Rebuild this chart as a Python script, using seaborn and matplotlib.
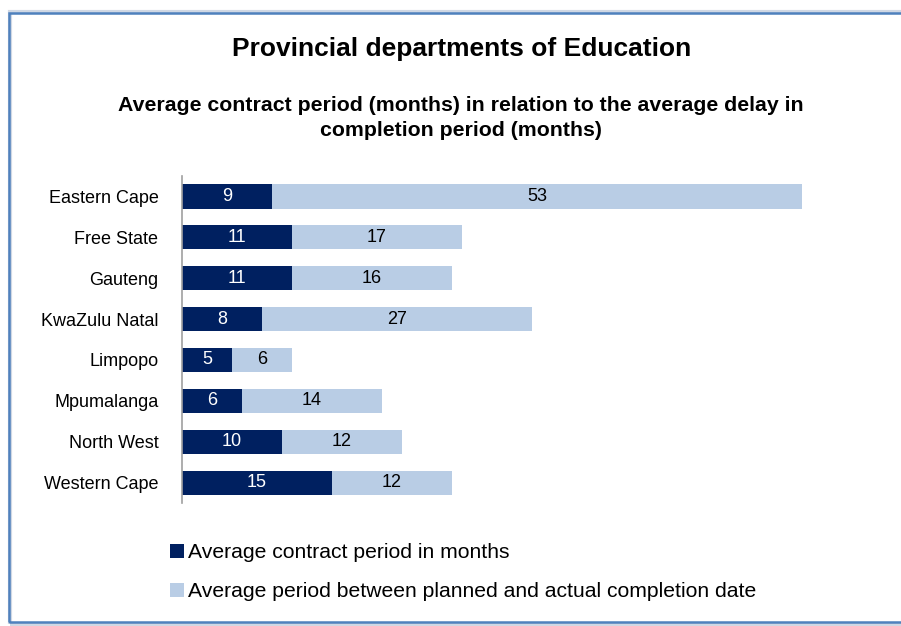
import matplotlib
matplotlib.use("Agg")
import matplotlib.pyplot as plt
from matplotlib.patches import Patch, Rectangle
import seaborn as sns
import pandas as pd

provinces = ["Eastern Cape", "Free State", "Gauteng", "KwaZulu Natal",
             "Limpopo", "Mpumalanga", "North West", "Western Cape"]
contract_months = [9, 11, 11, 8, 5, 6, 10, 15]
delay_months = [53, 17, 16, 27, 6, 14, 12, 12]

series_contract = "Average contract period in months"
series_delay = "Average period between planned and actual completion date"

dark = "#002060"
light = "#B9CDE5"

sns.set_theme(style="white")
plt.rcParams["font.family"] = ["Liberation Sans", "DejaVu Sans"]
plt.rcParams["text.color"] = "black"

df = pd.DataFrame({
    "province": provinces,
    "contract": contract_months,
    "delay": delay_months,
})
df["total"] = df["contract"] + df["delay"]

fig = plt.figure(figsize=(9.01, 6.26), dpi=100)
ax = fig.add_axes([0.202, 0.1965, 0.777, 0.5222])

# stacked horizontal bars: full length in light blue, contract part on top
sns.barplot(data=df, y="province", x="total", color=light, orient="h",
            width=0.59, saturation=1, ax=ax, errorbar=None, linewidth=0)
sns.barplot(data=df, y="province", x="contract", color=dark, orient="h",
            width=0.59, saturation=1, ax=ax, errorbar=None, linewidth=0)

for i, (c, d) in enumerate(zip(contract_months, delay_months)):
    ax.text(c / 2, i, str(c), ha="center", va="center", color="white", fontsize=13)
    ax.text(c + d / 2, i, str(d), ha="center", va="center", color="black", fontsize=13)

ax.set_xlim(0, 70)
ax.set_ylim(7.5, -0.5)
ax.set_xlabel("")
ax.set_ylabel("")
ax.set_xticks([])
ax.tick_params(axis="y", length=0, pad=17, labelsize=13)
for lab in ax.get_yticklabels():
    lab.set_color("black")
for side in ["top", "right", "bottom"]:
    ax.spines[side].set_visible(False)
ax.spines["left"].set_color("#A0A0A0")
ax.spines["left"].set_linewidth(1.2)

fig.text(0.512, 0.9225, "Provincial departments of Education", ha="center", va="center",
         fontsize=19, fontweight="bold", color="black")
fig.text(0.512, 0.811, "Average contract period (months) in relation to the average delay in\ncompletion period (months)",
         ha="center", va="center", fontsize=15.3, fontweight="bold", linespacing=1.38,
         color="black")

handles = [Patch(facecolor=dark, edgecolor="none", label=series_contract),
           Patch(facecolor=light, edgecolor="none", label=series_delay)]
fig.legend(handles=handles, loc="center left", bbox_to_anchor=(0.189, 0.086),
           frameon=False, fontsize=15.2, handlelength=0.65, handleheight=0.65,
           handletextpad=0.18, labelspacing=0.95, borderaxespad=0, borderpad=0)

# chart frame
fig.patches.append(Rectangle((10 / 901, 1 - 624 / 626), 900 / 901, 612 / 626,
                             transform=fig.transFigure, fill=False,
                             edgecolor="#D0D8E4", linewidth=3, zorder=0))
fig.patches.append(Rectangle((9 / 901, 1 - 622 / 626), 900 / 901, 609 / 626,
                             transform=fig.transFigure, fill=False,
                             edgecolor="#4F81BD", linewidth=1.8, zorder=1))

fig.savefig("out.png", dpi=100, facecolor="white")
